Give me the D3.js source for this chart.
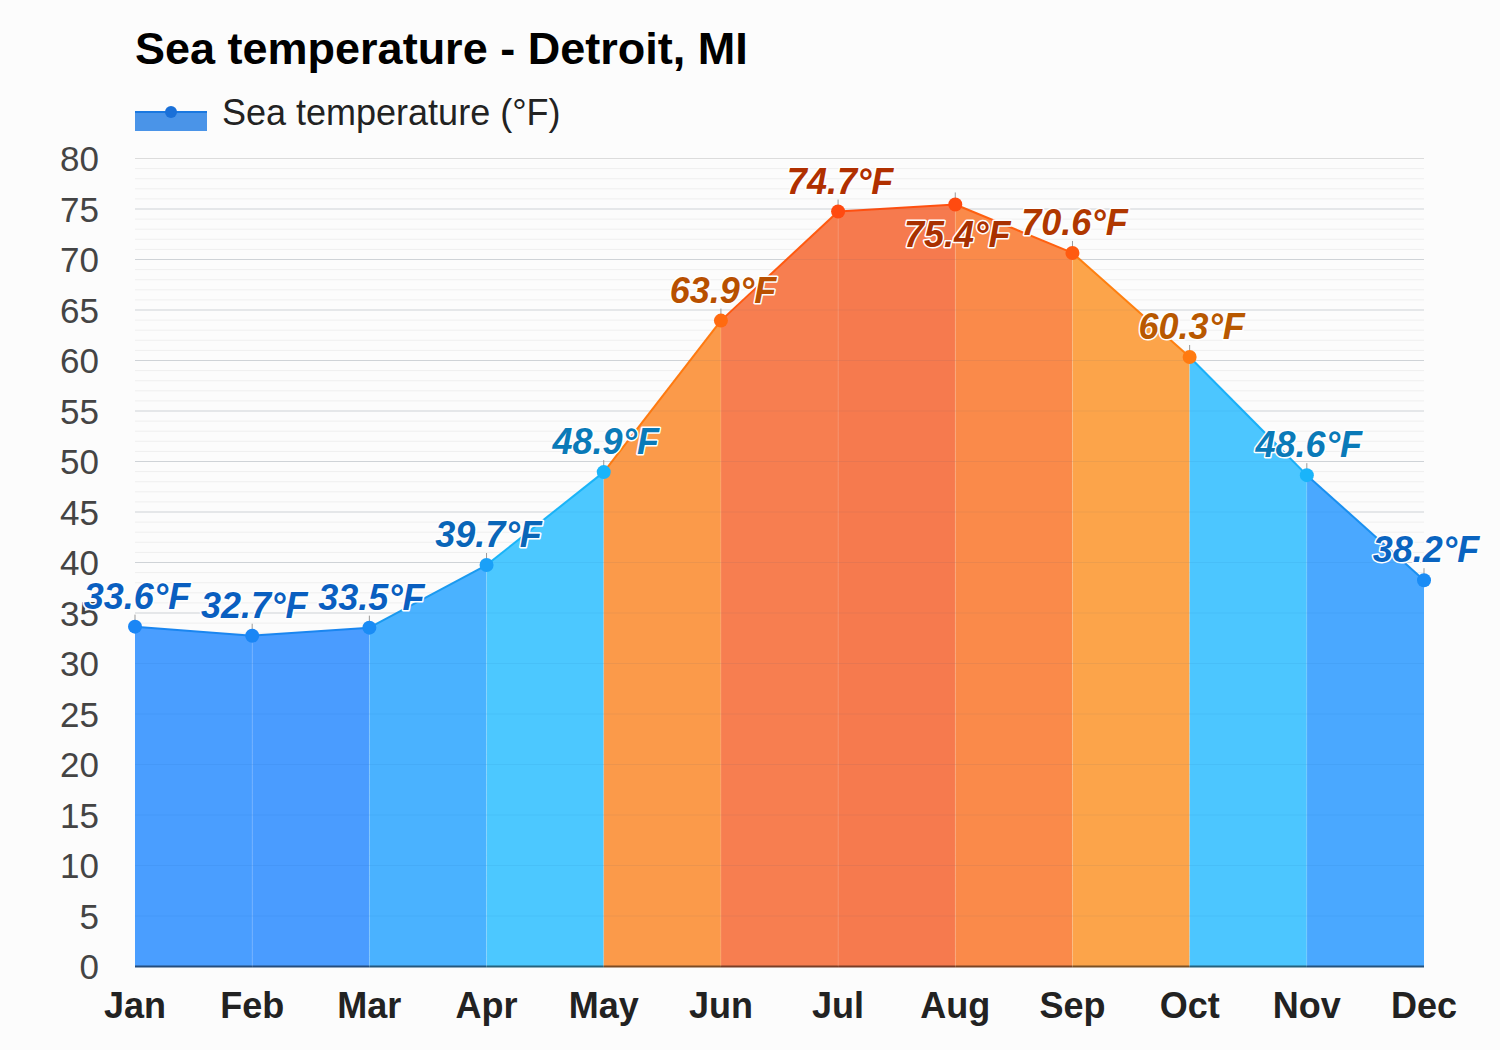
<!DOCTYPE html>
<html><head><meta charset="utf-8">
<script src="https://cdn.jsdelivr.net/npm/d3@7"></script>
<style>body{margin:0;background:#fcfcfc;}svg{display:block;font-family:"Liberation Sans",Arial,sans-serif;}</style>
</head><body><svg id="c" width="1500" height="1050"></svg>
<script>
const months = ["Jan","Feb","Mar","Apr","May","Jun","Jul","Aug","Sep","Oct","Nov","Dec"];
const temps = [33.6,32.7,33.5,39.7,48.9,63.9,74.7,75.4,70.6,60.3,48.6,38.2];
const yTicks = [0,5,10,15,20,25,30,35,40,45,50,55,60,65,70,75,80];
const segFill = ["#4a9eff","#4a9cff","#4ab2ff","#4cc8ff","#fb9a4a","#f77e50","#f67a4e","#fa8a4a","#fca44a","#4cc6ff","#4aa8ff"];
const segLine = ["#1a86f0","#1a86f0","#1a9af0","#1ab4f8","#ff7a10","#ff5a10","#ff5010","#ff6010","#ff8010","#1ab0f8","#1a90f0"];
const dotColor = ["#1a86f5","#1a86f5","#1a8cf5","#1aa0f8","#1ab4fa","#ff6a10","#ff4a10","#ff4a10","#ff5a10","#ff7a10","#1ab4fa","#1a8cf5"];
const labelColor = ["#0a5fc0","#0a5fc0","#0a5fc0","#0a66b8","#0a7ab8","#b85000","#b03000","#a83000","#b03800","#b85800","#0a7ab8","#0a64c0"];
const labelBelow = [false,false,false,false,false,false,false,true,false,false,false,false];

const svg = d3.select("#c");
const x = d3.scalePoint().domain(months).range([135,1424]);
const y = d3.scaleLinear().domain([0,80]).range([966,158]);

// title & legend
svg.append("text").attr("x",135).attr("y",64).attr("font-size",45).attr("font-weight","bold").attr("fill","#000").text("Sea temperature - Detroit, MI");
svg.append("rect").attr("x",135).attr("y",112).attr("width",72).attr("height",19).attr("fill","#4a94e8");
svg.append("line").attr("x1",135).attr("x2",207).attr("y1",112).attr("y2",112).attr("stroke","#1a78e0").attr("stroke-width",2);
svg.append("circle").attr("cx",171).attr("cy",112).attr("r",6).attr("fill","#1a70d8");
svg.append("text").attr("x",222).attr("y",125).attr("font-size",36).attr("fill","#222").text("Sea temperature (°F)");

// grid
const minor = d3.range(0,81,1);
svg.append("g").selectAll("line").data(minor).join("line")
  .attr("x1",135).attr("x2",1424).attr("y1",d=>y(d)+0.5).attr("y2",d=>y(d)+0.5)
  .attr("stroke",d=>d%5===0?"#dcdcdc":"#efefef").attr("stroke-width",1);

// y axis labels
svg.append("g").selectAll("text").data(yTicks).join("text")
  .attr("x",99).attr("y",d=>y(d)+13).attr("text-anchor","end").attr("font-size",35).attr("fill","#444").text(d=>d);

// segments
const segs = d3.range(11);
const area = d3.area().x(d=>x(d.m)).y0(y(0)).y1(d=>y(d.v));
const g = svg.append("g");
segs.forEach(i=>{
  const pts=[{m:months[i],v:temps[i]},{m:months[i+1],v:temps[i+1]}];
  g.append("path").attr("d",area(pts)).attr("fill",segFill[i]);
  g.append("path").attr("d",d3.line().x(d=>x(d.m)).y(d=>y(d.v))(pts)).attr("stroke",segLine[i]).attr("stroke-width",2).attr("fill","none");
  g.append("line").attr("x1",x(months[i])).attr("x2",x(months[i+1])).attr("y1",y(0)+0.5).attr("y2",y(0)+0.5)
    .attr("stroke",d3.color(segFill[i]).darker(2)).attr("stroke-width",2);
});
// faint gridlines through fill
g.append("g").selectAll("line").data(d3.range(5,80,5)).join("line")
  .attr("x1",135).attr("x2",1424).attr("y1",d=>y(d)+0.5).attr("y2",d=>y(d)+0.5)
  .attr("stroke","rgba(0,60,140,0.06)");
// faint vertical boundary lines
g.append("g").selectAll("line").data(months.slice(1,11)).join("line")
  .attr("x1",d=>x(d)).attr("x2",d=>x(d)).attr("y1",(d,i)=>y(temps[i+1])).attr("y2",y(0))
  .attr("stroke","rgba(255,255,255,0.12)");

// tick marks above points
svg.append("g").selectAll("line").data(temps).join("line")
  .attr("x1",(d,i)=>x(months[i])).attr("x2",(d,i)=>x(months[i]))
  .attr("y1",d=>y(d)-12).attr("y2",d=>y(d)).attr("stroke","#999").attr("stroke-width",1);

// dots
svg.append("g").selectAll("circle").data(temps).join("circle")
  .attr("cx",(d,i)=>x(months[i])).attr("cy",d=>y(d)).attr("r",7).attr("fill",(d,i)=>dotColor[i]);

// labels
svg.append("g").selectAll("text").data(temps).join("text")
  .attr("x",(d,i)=>x(months[i])+2).attr("y",(d,i)=>labelBelow[i]?y(d)+43:y(d)-18)
  .attr("text-anchor","middle").attr("font-size",36).attr("font-weight","bold").attr("font-style","italic")
  .attr("fill",(d,i)=>labelColor[i]).attr("stroke","#fff").attr("stroke-width",3).attr("paint-order","stroke")
  .attr("stroke-linejoin","round").text(d=>d.toFixed(1)+"°F");

// x labels
svg.append("g").selectAll("text").data(months).join("text")
  .attr("x",d=>x(d)).attr("y",1018).attr("text-anchor","middle").attr("font-size",36).attr("font-weight","bold").attr("fill","#222").text(d=>d);
</script></body></html>
